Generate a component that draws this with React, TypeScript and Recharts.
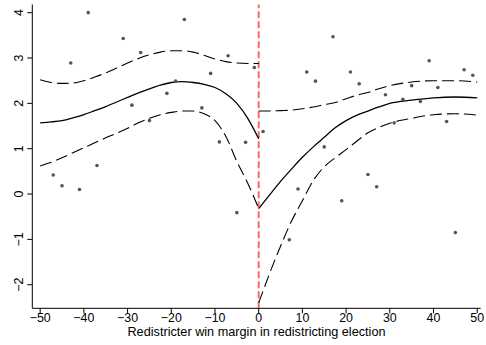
import {
  ComposedChart,
  Line,
  Scatter,
  XAxis,
  YAxis,
  ReferenceLine,
} from "recharts";

// observed points (margin, outcome)
const pointX = [
  -47, -45, -43, -41, -39, -37, -31, -29, -27, -25, -21, -19, -17, -13, -11, -9,
  -7, -5, -3, -1, 1, 7, 9, 11, 13, 15, 17, 19, 21, 23, 25, 27, 29, 31, 33, 35,
  37, 39, 41, 43, 45, 47, 49,
];
const pointY = [
  0.42, 0.18, 2.89, 0.1, 4.0, 0.63, 3.43, 1.96, 3.12, 1.62, 2.22, 2.49, 3.85,
  1.9, 2.66, 1.15, 3.05, -0.41, 1.14, 2.79, 1.38, -1.01, 0.11, 2.69, 2.49, 1.04,
  3.47, -0.15, 2.69, 2.43, 0.43, 0.16, 2.19, 1.57, 2.09, 2.39, 2.04, 2.94, 2.35,
  1.6, -0.85, 2.74, 2.62,
];

// fit left of the cutoff
const leftX = [
  -50, -47.5, -45, -42.5, -40, -37.5, -35, -32.5, -30, -27.5, -25, -22.5, -20,
  -17.5, -15, -12.5, -10, -7.5, -5, -2.5, 0,
];
const leftFit = [
  1.57, 1.59, 1.62, 1.68, 1.75, 1.84, 1.93, 2.03, 2.13, 2.23, 2.32, 2.4, 2.46,
  2.48, 2.46, 2.42, 2.35, 2.21, 2.0, 1.67, 1.22,
];
const leftUpper = [
  2.52, 2.46, 2.44, 2.45, 2.5, 2.58, 2.67, 2.78, 2.89, 2.99, 3.07, 3.13, 3.16,
  3.16, 3.13, 3.06, 2.98, 2.92, 2.89, 2.88, 2.88,
];
const leftLower = [
  0.62, 0.7, 0.8, 0.91, 1.02, 1.13, 1.24, 1.34, 1.45, 1.57, 1.67, 1.75, 1.8,
  1.83, 1.83, 1.77, 1.62, 1.27, 0.72, 0.24, -0.32,
];

// fit right of the cutoff
const rightX = [
  0, 2.5, 5, 7.5, 10, 12.5, 15, 17.5, 20, 22.5, 25, 27.5, 30, 35, 40, 45, 50,
];
const rightFit = [
  -0.32, -0.02, 0.28, 0.55, 0.81, 1.04, 1.25, 1.46, 1.62, 1.74, 1.83, 1.92, 2.0,
  2.07, 2.12, 2.14, 2.12,
];
const rightUpper = [
  1.83, 1.83, 1.84, 1.85, 1.88, 1.92, 1.97, 2.02, 2.1, 2.18, 2.24, 2.32, 2.39,
  2.47, 2.5, 2.5, 2.47,
];
const rightLower = [
  -2.4, -1.75, -1.15, -0.6, -0.15, 0.3, 0.6, 0.8, 0.98, 1.17, 1.35, 1.47, 1.56,
  1.67, 1.75, 1.77, 1.74,
];

const xTicks = [-50, -40, -30, -20, -10, 0, 10, 20, 30, 40, 50];
const yTicks = [-2, -1, 0, 1, 2, 3, 4];

const FONT = '"Liberation Sans", Arial, Helvetica, sans-serif';

const toRows = (xs: number[], ys: number[]) =>
  xs.map((x, i) => ({ x, y: ys[i] }));

const minus = (v: number) => String(v).replace("-", "\u2212");

function YTick(props: any) {
  const { y, payload } = props;
  return (
    <text
      x={19}
      y={y}
      transform={`rotate(-90, 19, ${y})`}
      textAnchor="middle"
      dy="0.36em"
      fontSize={12.4}
      fontFamily={FONT}
      fill="#000"
    >
      {minus(payload.value)}
    </text>
  );
}

function XTitle(props: any) {
  const vb = props.viewBox;
  return (
    <text
      x={vb.x + vb.width / 2}
      y={vb.y + 28}
      textAnchor="middle"
      fontSize={12.7}
      fontFamily={FONT}
      fill="#000"
    >
      Redistricter win margin in redistricting election
    </text>
  );
}

export default function App() {
  const points = toRows(pointX, pointY);
  const lFit = toRows(leftX, leftFit);
  const lUp = toRows(leftX, leftUpper);
  const lLo = toRows(leftX, leftLower);
  const rFit = toRows(rightX, rightFit);
  const rUp = toRows(rightX, rightUpper);
  const rLo = toRows(rightX, rightLower);

  const dash = "12 5";

  return (
    <div style={{ position: "absolute", left: 0, top: 0, background: "#fff" }}>
      <ComposedChart
        width={486}
        height={345}
        margin={{ top: 4.5, right: 5.3, bottom: 0.7, left: 0.3 }}
      >
        <XAxis
          dataKey="x"
          type="number"
          domain={[-51.8, 50.8]}
          allowDataOverflow
          ticks={xTicks}
          tickFormatter={minus}
          tickSize={5}
          tickMargin={0}
          height={36}
          stroke="#000"
          tick={{ fill: "#000", fontSize: 12.4, fontFamily: FONT }}
          label={<XTitle />}
        />
        <XAxis
          xAxisId="top"
          orientation="top"
          type="number"
          domain={[-51.8, 50.8]}
          height={0}
          tick={false}
          tickLine={false}
          stroke="#777"
          strokeWidth={1.5}
        />
        <YAxis
          type="number"
          domain={[-2.52, 4.18]}
          allowDataOverflow
          ticks={yTicks}
          tickSize={5}
          width={32}
          stroke="#000"
          tick={<YTick />}
        />
        <YAxis
          yAxisId="right"
          orientation="right"
          type="number"
          domain={[-2.52, 4.18]}
          width={0}
          tick={false}
          tickLine={false}
          stroke="#777"
          strokeWidth={1.5}
        />
        <ReferenceLine
          x={0}
          stroke="#f46b6b"
          strokeWidth={2}
          strokeDasharray="7 3"
        />
        <Line data={lFit} dataKey="y" type="monotone" stroke="#000" strokeWidth={1.3} dot={false} isAnimationActive={false} />
        <Line data={lUp} dataKey="y" type="monotone" stroke="#000" strokeWidth={1.1} strokeDasharray={dash} dot={false} isAnimationActive={false} />
        <Line data={lLo} dataKey="y" type="monotone" stroke="#000" strokeWidth={1.1} strokeDasharray={dash} dot={false} isAnimationActive={false} />
        <Line data={rFit} dataKey="y" type="monotone" stroke="#000" strokeWidth={1.3} dot={false} isAnimationActive={false} />
        <Line data={rUp} dataKey="y" type="monotone" stroke="#000" strokeWidth={1.1} strokeDasharray={dash} dot={false} isAnimationActive={false} />
        <Line data={rLo} dataKey="y" type="monotone" stroke="#000" strokeWidth={1.1} strokeDasharray={dash} dot={false} isAnimationActive={false} />
        <Scatter
          data={points}
          dataKey="y"
          fill="#555"
          isAnimationActive={false}
          shape={(p: any) => <circle cx={p.cx} cy={p.cy} r={1.8} fill="#555" />}
        />
      </ComposedChart>
    </div>
  );
}
